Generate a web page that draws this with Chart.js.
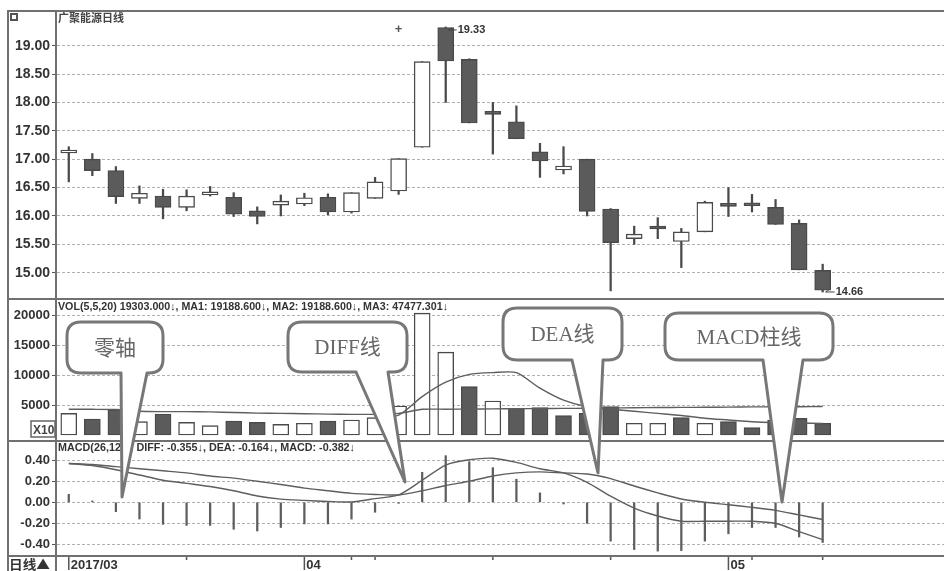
<!DOCTYPE html>
<html>
<head>
<meta charset="utf-8">
<title>广聚能源日线</title>
<script src="https://cdn.jsdelivr.net/npm/chart.js@4.4.1/dist/chart.umd.min.js"></script>
<style>
  html, body { margin: 0; padding: 0; background: #fff; }
  #wrap { position: relative; width: 944px; height: 571px; overflow: hidden; background: #fff; }
  #wrap canvas { position: absolute; left: 0; }
  .ln { position: absolute; background: #707070; }
  #overlay { position: absolute; left: 0; top: 0; }
</style>
</head>
<body>
<div id="wrap">
  <canvas id="price" width="944" height="286" style="top:12px"></canvas>
  <canvas id="vol" width="944" height="140" style="top:300px"></canvas>
  <canvas id="macd" width="944" height="129" style="top:442px"></canvas>

  <!-- 边框 -->
  <div class="ln" style="left:7px;top:10px;width:937px;height:2px"></div>
  <div class="ln" style="left:7px;top:10px;width:2px;height:561px"></div>
  <div class="ln" style="left:55px;top:10px;width:2px;height:561px"></div>
  <div class="ln" style="left:7px;top:298px;width:937px;height:2px"></div>
  <div class="ln" style="left:7px;top:440px;width:937px;height:2px"></div>
  <div class="ln" style="left:7px;top:555px;width:937px;height:2px"></div>

  <svg id="overlay" width="944" height="571" xmlns="http://www.w3.org/2000/svg">
    <rect x="11" y="14" width="6" height="6" fill="none" stroke="#555" stroke-width="2"/>
    <text x="58" y="22" font-family="Noto Sans CJK SC" font-size="11" font-weight="bold" fill="#444"
          textLength="66" lengthAdjust="spacingAndGlyphs">广聚能源日线</text>
    <text x="58" y="310" font-family="Liberation Sans Narrow, Liberation Sans" font-size="11" font-weight="bold" fill="#333"
          textLength="390" lengthAdjust="spacingAndGlyphs">VOL(5,5,20) 19303.000↓, MA1: 19188.600↓, MA2: 19188.600↓, MA3: 47477.301↓</text>
    <rect x="31" y="421" width="24" height="16" fill="#fff" stroke="#666" stroke-width="1.5"/>
    <text x="33" y="434" font-family="Liberation Sans" font-size="12" font-weight="bold" fill="#444">X10</text>
    <text x="58" y="451" font-family="Liberation Sans Narrow, Liberation Sans" font-size="11" font-weight="bold" fill="#333"
          textLength="297" lengthAdjust="spacingAndGlyphs">MACD(26,12,9) DIFF: -0.355↓, DEA: -0.164↓, MACD: -0.382↓</text>
    <text x="9" y="569" font-family="Noto Sans CJK SC" font-size="13" font-weight="bold" fill="#333"
          textLength="41" lengthAdjust="spacingAndGlyphs">日线▲</text>
    <g id="bubbles"></g>
  </svg>
</div>

<script>
// 交易日
const dates = ['03-20', '03-21', '03-22', '03-23', '03-24', '03-27', '03-28', '03-29', '03-30', '03-31',
  '04-05', '04-06', '04-07', '04-10', '04-11', '04-12', '04-13', '04-14', '04-17', '04-18',
  '04-19', '04-20', '04-21', '04-24', '04-25', '04-26', '04-27', '04-28',
  '05-02', '05-03', '05-04', '05-05', '05-08'];

// K线
const opens  = [17.11, 17.00, 16.80, 16.31, 16.35, 16.15, 16.37, 16.33, 16.09, 16.19,
  16.21, 16.33, 16.07, 16.31, 16.44, 17.21, 19.32, 18.76, 17.84, 17.66,
  17.13, 16.81, 17.00, 16.12, 15.60, 15.80, 15.55, 15.72, 16.19, 16.19,
  16.15, 15.87, 15.04];
const highs  = [17.22, 17.10, 16.87, 16.53, 16.47, 16.46, 16.52, 16.41, 16.16, 16.37,
  16.40, 16.39, 16.41, 16.68, 17.01, 18.72, 19.33, 18.77, 18.00, 17.94,
  17.28, 17.22, 17.00, 16.13, 15.82, 15.97, 15.78, 16.26, 16.50, 16.38,
  16.29, 15.93, 15.15];
const lows   = [16.60, 16.71, 16.22, 16.22, 15.95, 16.09, 16.35, 15.99, 15.86, 16.00,
  16.18, 16.02, 16.05, 16.31, 16.38, 17.21, 18.00, 17.64, 17.09, 17.36,
  16.68, 16.74, 16.00, 14.68, 15.50, 15.60, 15.09, 15.72, 15.99, 16.07,
  15.85, 15.05, 14.66];
const closes = [17.13, 16.80, 16.34, 16.40, 16.15, 16.35, 16.39, 16.03, 15.99, 16.26,
  16.32, 16.07, 16.41, 16.60, 17.01, 18.72, 18.73, 17.64, 17.79, 17.36,
  16.97, 16.88, 16.08, 15.53, 15.68, 15.77, 15.72, 16.24, 16.17, 16.18,
  15.85, 15.05, 14.69];

// 成交量 (X10)
const volumes = [3600, 2670, 4170, 2220, 3500, 2100, 1560, 2330, 2100, 1780,
  1950, 2330, 2500, 2890, 4840, 20300, 13800, 8060, 5670, 4450,
  4560, 3220, 3600, 4720, 1950, 1950, 2890, 1950, 2220, 1220,
  2500, 2780, 1950];
const volUp = [1, 0, 0, 1, 0, 1, 1, 0, 0, 1, 1, 0, 1, 1, 1, 1, 1, 0, 1, 0,
  0, 0, 0, 0, 1, 1, 0, 1, 0, 0, 0, 0, 0];
const volMa1 = [null, null, null, null, null, null, null, null, null, null,
  null, null, null, 3000, 3330, 6400, 8800, 10100, 10400, 10400,
  7800, 5800, 4700, 4300, 3950, 3600, 3250, 2800, 2500, 2200,
  2050, 2000, 1919];
const volMa3 = [4280, 4280, 4250, 3950, 3900, 3890, 3850, 3750, 3650, 3600,
  3550, 3480, 3440, 3440, 3600, 4280, 4300, 4320, 4350, 4380,
  4400, 4430, 4460, 4500, 4550, 4580, 4600, 4620, 4650, 4680,
  4700, 4720, 4748];

// MACD
const diffs = [0.37, 0.35, 0.31, 0.26, 0.21, 0.18, 0.15, 0.11, 0.06, 0.03,
  0.018, 0.008, 0.003, 0.035, 0.07, 0.21, 0.355, 0.405, 0.42, 0.38,
  0.32, 0.28, 0.19, 0.058, -0.055, -0.13, -0.18, -0.18, -0.18, -0.18,
  -0.20, -0.28, -0.355];
const deas = [0.37, 0.36, 0.34, 0.32, 0.30, 0.28, 0.25, 0.23, 0.20, 0.17,
  0.135, 0.11, 0.085, 0.075, 0.07, 0.11, 0.16, 0.20, 0.25, 0.28,
  0.29, 0.28, 0.27, 0.226, 0.155, 0.09, 0.032, 0.0, -0.023, -0.048,
  -0.077, -0.12, -0.164];
const macds = [0.076, 0.013, -0.089, -0.159, -0.21, -0.22, -0.22, -0.257, -0.273, -0.24,
  -0.206, -0.206, -0.16, -0.095, -0.01, 0.286, 0.444, 0.387, 0.33, 0.22,
  0.09, -0.016, -0.20, -0.37, -0.45, -0.465, -0.46, -0.37, -0.30, -0.24,
  -0.24, -0.33, -0.382];

// 坐标刻度
const priceTicks = [15, 15.5, 16, 16.5, 17, 17.5, 18, 18.5, 19];
const volTicks = [5000, 10000, 15000, 20000];
const macdTicks = [-0.4, -0.2, 0, 0.2, 0.4];
const monthLabels = { '03-20': '2017/03', '04-05': '04', '05-02': '05' };
const weekMarks = ['03-27', '04-07', '04-10', '04-17', '04-24', '05-03', '05-08'];

const DARK = '#4a4a4a';
const FILL = '#5b5b5b';
const LINE = '#5e5e5e';
const NUM_FONT = '"Liberation Sans", Arial, sans-serif';

function xAxis() {
  return { type: 'linear', min: -0.5, max: 37.15, offset: false, display: false };
}

function yAxis(min, max, ticks, fmt, size) {
  return {
    position: 'left', min: min, max: max,
    afterFit: function(s) { s.width = 57; s.paddingTop = 0; s.paddingBottom = 0; },
    afterBuildTicks: function(s) { s.ticks = ticks.map(v => ({ value: v })); },
    ticks: {
      callback: v => fmt(v), color: '#333', padding: 2, autoSkip: false,
      font: { family: NUM_FONT, size: size, weight: 'bold' }
    },
    grid: { color: '#b0b0b0', lineWidth: 1, tickLength: 5, tickColor: '#555', tickWidth: 1 },
    border: { display: false, dash: [3, 2] }
  };
}

function baseOptions(scales, padBottom) {
  return {
    responsive: false, animation: false, events: [],
    layout: { padding: { left: 0, right: 0, top: 0, bottom: padBottom || 0 } },
    plugins: { legend: { display: false }, tooltip: { enabled: false } },
    scales: scales
  };
}

// 最高/最低价标注
const priceMarks = {
  id: 'priceMarks',
  afterDatasetsDraw(chart) {
    const { ctx, scales: { x, y }, chartArea } = chart;
    const hi = Math.max(...highs), lo = Math.min(...lows);
    const ih = highs.indexOf(hi), il = lows.lastIndexOf(lo);
    ctx.save();
    ctx.font = 'bold 11px "Liberation Sans Narrow", "Liberation Sans", sans-serif';
    ctx.fillStyle = '#333';
    ctx.strokeStyle = '#444';
    ctx.lineWidth = 1;
    ctx.textBaseline = 'middle';

    let px = x.getPixelForValue(ih), py = y.getPixelForValue(hi) + 3;
    ctx.beginPath();
    ctx.moveTo(px + 3, py); ctx.lineTo(px + 11, py);
    ctx.moveTo(px + 3, py); ctx.lineTo(px + 6, py - 2);
    ctx.stroke();
    ctx.fillText(hi.toFixed(2), px + 12, py);

    px = x.getPixelForValue(il); py = y.getPixelForValue(lo);
    ctx.beginPath();
    ctx.moveTo(px + 3, py); ctx.lineTo(px + 12, py);
    ctx.moveTo(px + 3, py); ctx.lineTo(px + 6, py - 2);
    ctx.stroke();
    ctx.fillText(lo.toFixed(2), px + 13, py);

    // 信息标记
    ctx.font = 'bold 13px "Liberation Sans", sans-serif';
    ctx.textAlign = 'center';
    ctx.fillStyle = '#555';
    ctx.fillText('+', x.getPixelForValue(14), chartArea.top + 17);
    ctx.restore();
  }
};

// 底部日期轴
const dateAxis = {
  id: 'dateAxis',
  afterDraw(chart) {
    const { ctx, scales: { x }, chartArea } = chart;
    const top = chartArea.bottom;
    ctx.save();
    ctx.strokeStyle = '#555';
    ctx.lineWidth = 1.5;
    ctx.fillStyle = '#333';
    ctx.font = 'bold 13px "Liberation Sans", sans-serif';
    ctx.textBaseline = 'alphabetic';
    dates.forEach((d, i) => {
      const px = x.getPixelForValue(i);
      if (monthLabels[d]) {
        ctx.beginPath();
        ctx.moveTo(px, top + 2); ctx.lineTo(px, top + 15);
        ctx.stroke();
        ctx.fillText(monthLabels[d], px + 2, top + 14);
      }
      if (weekMarks.includes(d)) {
        ctx.beginPath();
        ctx.moveTo(px, top + 1); ctx.lineTo(px, top + 5);
        ctx.stroke();
      }
    });
    ctx.restore();
  }
};

// K线图
new Chart(document.getElementById('price'), {
  type: 'bar',
  data: {
    datasets: [{
      data: dates.map((d, i) => ({ x: i, y: [lows[i], highs[i]] })),
      backgroundColor: DARK, borderWidth: 0,
      barThickness: 1.6, grouped: false, order: 2
    }, {
      data: dates.map((d, i) => ({ x: i, y: [opens[i], closes[i]] })),
      backgroundColor: dates.map((d, i) => closes[i] >= opens[i] ? '#ffffff' : FILL),
      borderColor: DARK, borderWidth: 1.4, borderSkipped: false,
      barThickness: 16, minBarLength: 3, grouped: false, order: 1
    }]
  },
  options: baseOptions({
    x: xAxis(),
    y: yAxis(14.554, 19.594, priceTicks, v => v.toFixed(2), 14)
  }),
  plugins: [priceMarks]
});

// 成交量
new Chart(document.getElementById('vol'), {
  type: 'bar',
  data: {
    datasets: [{
      type: 'line',
      data: dates.map((d, i) => ({ x: i, y: volMa3[i] })),
      borderColor: LINE, borderWidth: 1.4, pointRadius: 0, tension: 0.2, order: 1
    }, {
      type: 'line',
      data: dates.map((d, i) => ({ x: i, y: volMa1[i] })),
      borderColor: LINE, borderWidth: 1.4, pointRadius: 0, tension: 0.25, order: 1
    }, {
      data: dates.map((d, i) => ({ x: i, y: volumes[i] })),
      backgroundColor: volUp.map(u => u ? '#ffffff' : FILL),
      borderColor: DARK, borderWidth: 1.4, borderSkipped: false,
      barThickness: 16, grouped: false, order: 2
    }]
  },
  options: baseOptions({
    x: xAxis(),
    y: yAxis(-833, 22500, volTicks, v => String(v), 13)
  })
});

// MACD
new Chart(document.getElementById('macd'), {
  type: 'bar',
  data: {
    datasets: [{
      data: dates.map((d, i) => ({ x: i, y: macds[i] })),
      backgroundColor: LINE, borderWidth: 0,
      barThickness: 1.6, grouped: false, order: 2
    }, {
      type: 'line',
      data: dates.map((d, i) => ({ x: i, y: diffs[i] })),
      borderColor: LINE, borderWidth: 1.4, pointRadius: 0, tension: 0.25, order: 1
    }, {
      type: 'line',
      data: dates.map((d, i) => ({ x: i, y: deas[i] })),
      borderColor: LINE, borderWidth: 1.4, pointRadius: 0, tension: 0.25, order: 1
    }]
  },
  options: baseOptions({
    x: xAxis(),
    y: yAxis(-0.5019, 0.5743, macdTicks, v => v.toFixed(2), 13)
  }, 16),
  plugins: [dateAxis]
});

// 标注气泡
const bubbles = [
  { text: '零轴', box: [67, 322, 163, 373], tail: [121, 147], tip: [122, 497] },
  { text: 'DIFF线', box: [288, 322, 407, 372], tail: [356, 388], tip: [405, 482] },
  { text: 'DEA线', box: [503, 308, 622, 360], tail: [572, 603], tip: [598, 473] },
  { text: 'MACD柱线', box: [665, 313, 833, 360], tail: [763, 803], tip: [782, 502] }
];
const NS = 'http://www.w3.org/2000/svg';
const g = document.getElementById('bubbles');
bubbles.forEach(b => {
  const [x0, y0, x1, y1] = b.box, r = 14;
  const [tl, tr] = b.tail, [tx, ty] = b.tip;
  const path = document.createElementNS(NS, 'path');
  path.setAttribute('d',
    `M${x0 + r},${y0} H${x1 - r} Q${x1},${y0} ${x1},${y0 + r} V${y1 - r} Q${x1},${y1} ${x1 - r},${y1} ` +
    `H${tr} L${tx},${ty} L${tl},${y1} H${x0 + r} Q${x0},${y1} ${x0},${y1 - r} V${y0 + r} Q${x0},${y0} ${x0 + r},${y0} Z`);
  path.setAttribute('fill', '#fff');
  path.setAttribute('stroke', '#777');
  path.setAttribute('stroke-width', '3');
  path.setAttribute('stroke-linejoin', 'round');
  g.appendChild(path);
  const t = document.createElementNS(NS, 'text');
  t.setAttribute('x', (x0 + x1) / 2);
  t.setAttribute('y', (y0 + y1) / 2 + 7);
  t.setAttribute('text-anchor', 'middle');
  t.setAttribute('font-family', 'Liberation Serif, Noto Sans CJK SC');
  t.setAttribute('font-size', '21');
  t.setAttribute('fill', '#666');
  t.textContent = b.text;
  g.appendChild(t);
});
</script>
</body>
</html>
